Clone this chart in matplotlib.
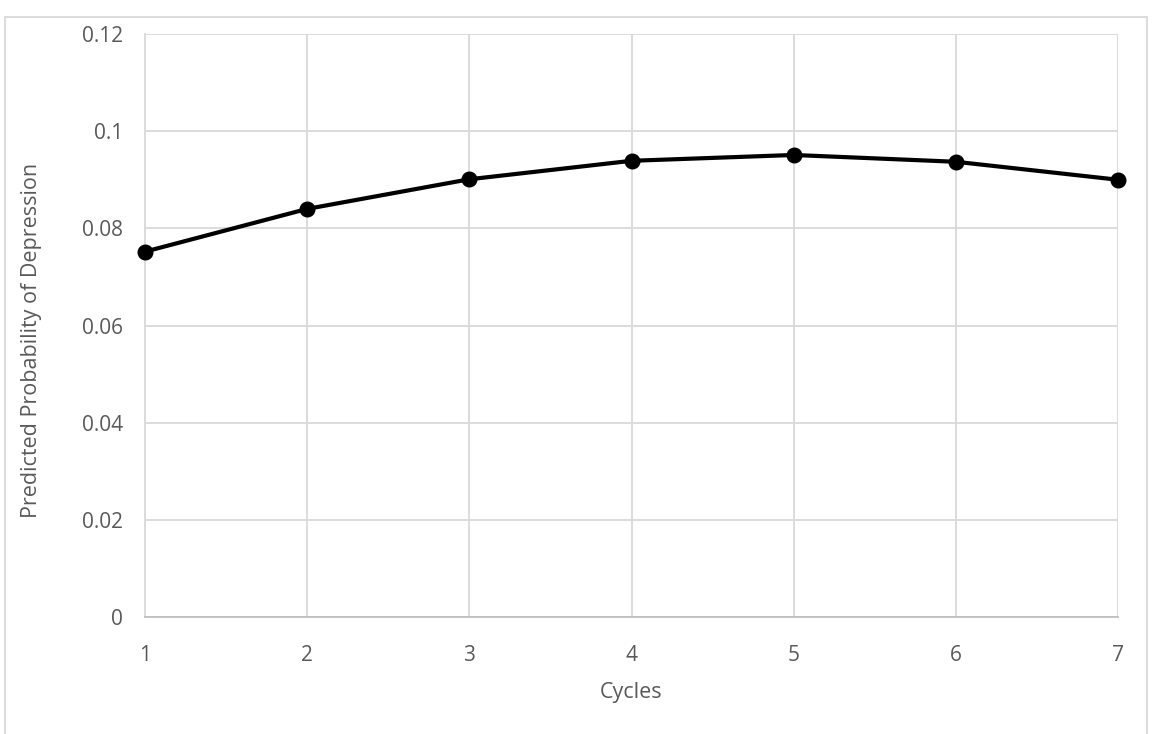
import matplotlib.pyplot as plt
from matplotlib.patches import Rectangle

plt.rcParams['font.family'] = ['Open Sans', 'DejaVu Sans']

cycles = [1, 2, 3, 4, 5, 6, 7]
prob_depression = [0.0752, 0.0840, 0.0901, 0.0939, 0.0951, 0.0937, 0.0900]
y_ticks = [0, 0.02, 0.04, 0.06, 0.08, 0.1, 0.12]
y_tick_labels = ['0', '0.02', '0.04', '0.06', '0.08', '0.1', '0.12']

fig = plt.figure(figsize=(11.52, 7.34), dpi=100)
ax = fig.add_axes([145 / 1152, 117 / 734, 973 / 1152, 583 / 734])

ax.plot(cycles, prob_depression, color='black', linewidth=3,
        marker='o', markersize=10.5, zorder=3, clip_on=False)

ax.set_xlim(1, 7)
ax.set_ylim(0, 0.12)
ax.set_xticks(cycles)
ax.set_yticks(y_ticks)
ax.set_yticklabels(y_tick_labels)
ax.tick_params(length=0, labelsize=15, colors='#595959')
ax.tick_params(axis='y', pad=16)
ax.tick_params(axis='x', pad=20)

ax.grid(True, color='#d9d9d9', linewidth=1.3)
ax.set_axisbelow(True)
for side in ['top', 'right']:
    ax.spines[side].set_visible(False)
ax.spines['left'].set_color('#d9d9d9')
ax.spines['left'].set_linewidth(1.3)
ax.spines['bottom'].set_color('#bfbfbf')
ax.spines['bottom'].set_linewidth(1.3)

ax.set_xlabel('Cycles', fontsize=15.5, color='#595959', labelpad=12)
ax.set_ylabel('Predicted Probability of Depression', fontsize=15.5,
              color='#595959')
ax.yaxis.set_label_coords(-0.106, 0.475)

# chart area border
fig.patches.append(Rectangle((5 / 1152, -0.01), 1142 / 1152, 0.9865,
                             transform=fig.transFigure, fill=False,
                             edgecolor='#d9d9d9', linewidth=1.3))

fig.savefig('out.png', dpi=100)
